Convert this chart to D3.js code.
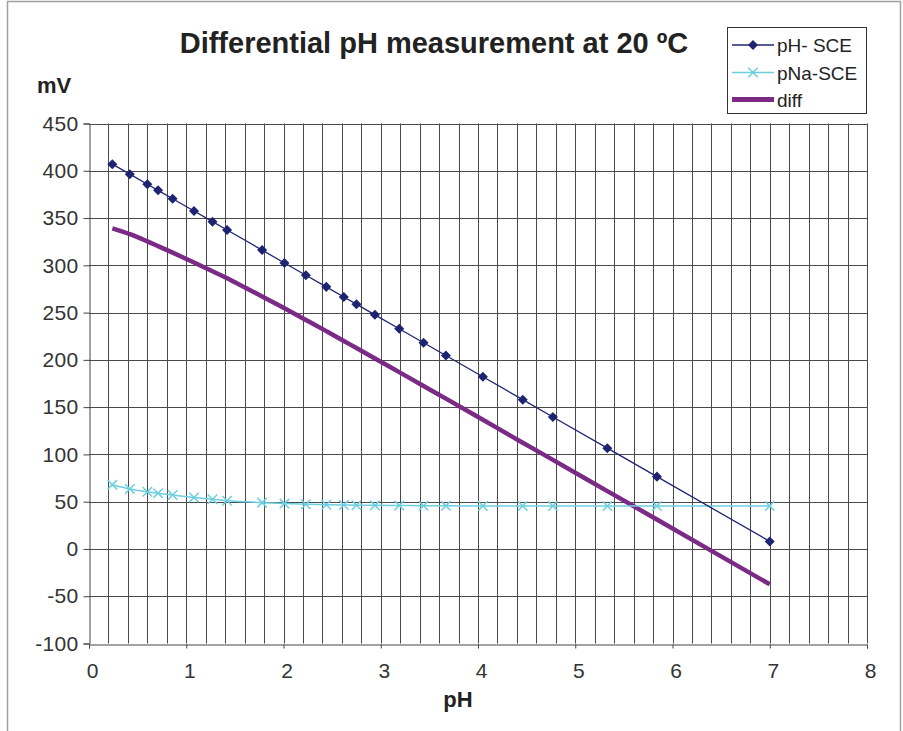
<!DOCTYPE html>
<html>
<head>
<meta charset="utf-8">
<script src="https://cdn.jsdelivr.net/npm/d3@7"></script>
<style>
  html, body { margin: 0; padding: 0; background: #fff; }
  svg { display: block; }
  text { font-family: "Liberation Sans", Arial, Helvetica, sans-serif; }
</style>
</head>
<body>
<svg id="chart" width="903" height="731"></svg>
<script>
// ---- data ----
const pHValues = [0.24, 0.42, 0.60, 0.71, 0.86, 1.08, 1.27, 1.42, 1.78, 2.01, 2.23, 2.44, 2.62, 2.75, 2.94, 3.19, 3.44, 3.67, 4.05, 4.46, 4.77, 5.33, 5.84, 7.00];
const phSCE = [407, 396.4, 385.8, 379.3, 370.4, 357.4, 346.2, 337.4, 316.1, 302.5, 289.5, 277.2, 266.5, 258.9, 247.6, 232.9, 218.1, 204.6, 182.1, 157.9, 139.6, 106.6, 76.5, 8];
const pNaSCE = [68, 63.5, 60.5, 59, 57, 54.5, 52.5, 51, 49, 48, 47.3, 46.8, 46.5, 46.3, 46.1, 45.9, 45.7, 45.6, 45.5, 45.5, 45.4, 45.4, 45.4, 45.4];
const diffValues = [339, 332.9, 325.3, 320.3, 313.4, 302.9, 293.7, 286.4, 267.1, 254.5, 242.2, 230.4, 220, 212.6, 201.5, 187, 172.4, 159, 136.6, 112.4, 94.2, 61.2, 31.1, -37.4];
const xTicks = [0, 1, 2, 3, 4, 5, 6, 7, 8];
const yTicks = [-100, -50, 0, 50, 100, 150, 200, 250, 300, 350, 400, 450];
const seriesNames = ["pH- SCE", "pNa-SCE", "diff"];
const title = "Differential pH measurement at 20 \u00BAC";
const xLabel = "pH";
const yLabel = "mV";

// ---- layout ----
const svg = d3.select("#chart");
const colors = { ph: "#1f2472", pna: "#6ccfe0", diff: "#7b2a85" };
const x = d3.scaleLinear().domain([0, 8]).range([89, 867]);
const y = d3.scaleLinear().domain([-100, 450]).range([643.5, 123.5]);

// outer frame
svg.append("rect").attr("x", 7.5).attr("y", 1.5).attr("width", 893).attr("height", 760)
  .attr("fill", "none").attr("stroke", "#a0a0a0").attr("stroke-width", 1.5);

// grid
const grid = svg.append("g");
const vgrid = d3.range(1, 41).map(i => i * 0.2);
grid.selectAll("line.v").data(vgrid).join("line")
  .attr("x1", d => Math.round(x(d)) + 0.5).attr("x2", d => Math.round(x(d)) + 0.5)
  .attr("y1", y(450)).attr("y2", y(-100))
  .attr("stroke", "#4a4a4a").attr("stroke-width", 1);
grid.selectAll("line.h").data(yTicks.filter(v => v > -100)).join("line")
  .attr("x1", x(0)).attr("x2", x(8))
  .attr("y1", d => Math.round(y(d)) + 0.5).attr("y2", d => Math.round(y(d)) + 0.5)
  .attr("stroke", "#4a4a4a").attr("stroke-width", 1);

// axes
const fmt = d => String(d); // plain hyphen-minus as in the original
const yAxis = d3.axisLeft(y).tickValues(yTicks).tickSize(6).tickPadding(5).tickFormat(fmt);
const gy = svg.append("g").attr("transform", `translate(${Math.round(x(0)) + 0.5},0)`).call(yAxis);
gy.select(".domain").attr("stroke", "#444");
gy.selectAll(".tick line").attr("stroke", "#444");
gy.selectAll("text").attr("font-size", 21).attr("fill", "#333").attr("letter-spacing", 0.3)
  .attr("font-family", "Liberation Sans, Arial, sans-serif");

const xAxis = d3.axisBottom(x).tickValues(xTicks).tickSize(4).tickPadding(15).tickFormat(fmt);
const gx = svg.append("g").attr("transform", `translate(0,${Math.round(y(-100)) + 0.5})`).call(xAxis);
gx.select(".domain").attr("stroke", "#444");
gx.selectAll(".tick line").attr("stroke", "#444");
gx.selectAll("text").attr("font-size", 21).attr("fill", "#333").attr("dx", 3)
  .attr("font-family", "Liberation Sans, Arial, sans-serif");

// lines
const pts = (vals) => pHValues.map((p, i) => [p, vals[i]]);
const straight = d3.line().x(d => x(d[0])).y(d => y(d[1]));
const smooth = d3.line().x(d => x(d[0])).y(d => y(d[1])).curve(d3.curveCatmullRom.alpha(0.5));

svg.append("path").datum(pts(diffValues)).attr("d", smooth)
  .attr("fill", "none").attr("stroke", colors.diff).attr("stroke-width", 4.5).attr("stroke-linecap", "butt");

svg.append("path").datum(pts(pNaSCE)).attr("d", smooth)
  .attr("fill", "none").attr("stroke", colors.pna).attr("stroke-width", 1.5);
svg.append("path").datum(pts(phSCE)).attr("d", straight)
  .attr("fill", "none").attr("stroke", colors.ph).attr("stroke-width", 1.3);

// markers
const diamond = d3.symbol().type(d3.symbolDiamond2).size(64);
svg.append("g").selectAll("path").data(pts(phSCE)).join("path")
  .attr("d", diamond).attr("transform", d => `translate(${x(d[0])},${y(d[1])})`)
  .attr("fill", colors.ph);
const cross = d3.symbol().type(d3.symbolX).size(60);
svg.append("g").selectAll("path").data(pts(pNaSCE)).join("path")
  .attr("d", cross).attr("transform", d => `translate(${x(d[0])},${y(d[1])})`)
  .attr("fill", "none").attr("stroke", colors.pna).attr("stroke-width", 1.5);

// title & labels
svg.append("text").attr("x", 434).attr("y", 53).attr("text-anchor", "middle")
  .attr("font-size", 29).attr("font-weight", "bold").attr("fill", "#222").text(title);
svg.append("text").attr("x", 37).attr("y", 93)
  .attr("font-size", 22).attr("font-weight", "bold").attr("fill", "#222").text(yLabel);
svg.append("text").attr("x", 458).attr("y", 707).attr("text-anchor", "middle")
  .attr("font-size", 22).attr("font-weight", "bold").attr("fill", "#222").text(xLabel);

// legend
const lg = svg.append("g");
lg.append("rect").attr("x", 727.5).attr("y", 27.5).attr("width", 139).attr("height", 86)
  .attr("fill", "#fff").attr("stroke", "#333").attr("stroke-width", 1);
const rows = [45, 72.5, 99.5];
seriesNames.forEach((name, i) => {
  const yy = rows[i];
  const stroke = [colors.ph, colors.pna, colors.diff][i];
  const sw = [1.3, 1.5, 5][i];
  lg.append("line").attr("x1", 732).attr("x2", 774).attr("y1", yy).attr("y2", yy)
    .attr("stroke", stroke).attr("stroke-width", sw);
  if (i === 0) lg.append("path").attr("d", diamond).attr("transform", `translate(753,${yy})`).attr("fill", stroke);
  if (i === 1) lg.append("path").attr("d", cross).attr("transform", `translate(753,${yy})`)
    .attr("fill", "none").attr("stroke", stroke).attr("stroke-width", 1.5);
  lg.append("text").attr("x", 777).attr("y", yy + 7).attr("font-size", 19).attr("fill", "#222").text(name);
});
</script>
</body>
</html>
